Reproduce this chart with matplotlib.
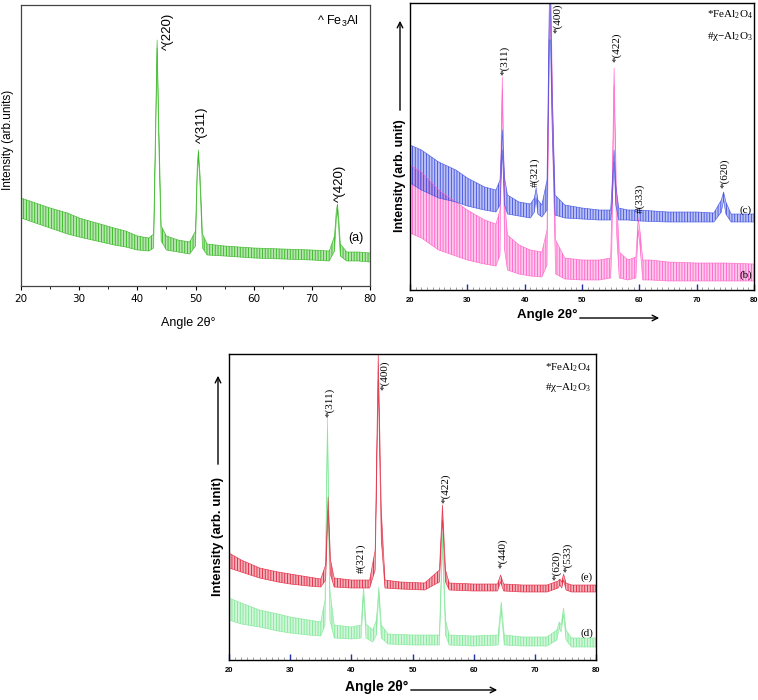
import matplotlib
matplotlib.use("Agg")
import matplotlib.pyplot as plt
from matplotlib.ticker import MultipleLocator

plt.rcParams['mathtext.default'] = 'regular'
plt.rcParams['hatch.linewidth'] = 0.6

W, H = 758, 700

# ---------------- datos (alturas en px sobre el eje) ----------------
# panel (a) Fe3Al
a_x = [20, 22, 25, 28, 30, 33, 36, 38, 40, 42, 42.8, 43.1, 43.4, 43.7, 44.1, 45, 47, 49,
       50.0, 50.3, 50.5, 50.8, 51.2, 52, 55, 60, 65, 70, 73, 73.9, 74.2, 74.4, 74.6, 74.9,
       76, 78, 80]
a_hi = [88, 84, 78, 73, 68, 63, 58, 55, 50, 48, 52, 150, 246, 160, 60, 50, 46, 44,
        55, 120, 136, 110, 52, 42, 40, 38, 37, 36, 35, 50, 75, 82, 70, 42,
        34, 34, 33]
a_lo = [68, 64, 58, 52, 49, 45, 41, 39, 36, 35, 38, 130, 238, 140, 45, 36, 34, 32,
        40, 110, 130, 98, 38, 31, 30, 28, 27, 26, 25, 35, 66, 76, 60, 30,
        25, 25, 24]

# panel (c) azul
c_x = [20, 22, 25, 28, 30, 33, 35, 35.7, 36.1, 36.5, 37, 39, 41, 41.7, 42.0, 42.3, 43,
       43.9, 44.3, 44.5, 44.8, 45.3, 47, 50, 53, 55, 55.3, 55.6, 55.9, 56.4, 58, 60, 65,
       70, 73, 74.3, 74.7, 75.1, 76, 78, 80]
c_hi = [145, 140, 128, 120, 112, 103, 100, 110, 160, 112, 95, 88, 86, 92, 102, 90, 85,
        110, 287, 287, 200, 95, 85, 82, 80, 80, 110, 140, 105, 82, 80, 80, 78,
        78, 77, 90, 98, 88, 76, 76, 76]
c_lo = [107, 100, 92, 88, 84, 80, 78, 85, 140, 85, 76, 74, 72, 78, 92, 76, 73,
        80, 250, 250, 160, 75, 72, 71, 70, 70, 90, 128, 85, 70, 70, 69, 68,
        68, 68, 78, 90, 76, 68, 68, 68]

# panel (b) rosa
b_x = [20, 22, 25, 28, 30, 33, 35, 35.7, 36.1, 36.5, 37, 39, 41, 43, 43.9, 44.3, 44.6,
       44.9, 45.4, 47, 50, 53, 55, 55.2, 55.6, 56.0, 56.5, 58, 59.4, 59.8, 60.1, 60.6,
       62, 65, 70, 75, 80]
b_hi = [125, 118, 100, 88, 80, 70, 66, 80, 213, 90, 55, 45, 40, 38, 60, 270, 287,
        180, 50, 32, 30, 30, 32, 80, 222, 100, 38, 30, 33, 72, 60, 30,
        30, 28, 27, 27, 26]
b_lo = [57, 52, 40, 34, 30, 26, 24, 35, 200, 40, 20, 16, 14, 13, 25, 240, 270,
        140, 16, 11, 10, 10, 12, 40, 205, 60, 12, 10, 12, 60, 45, 10,
        10, 9, 9, 9, 9]

# panel (e) rojo
e_x = [20, 22, 25, 28, 30, 33, 35, 35.8, 36.2, 36.6, 37.2, 40, 43, 43.9, 44.4, 44.9, 45.5,
       48, 52, 54.4, 54.9, 55.4, 56, 60, 63.9, 64.4, 64.9, 68, 72, 73.8, 74.1, 74.4, 74.7,
       75.1, 76, 80]
e_hi = [107, 100, 92, 88, 86, 83, 81, 95, 163, 100, 82, 80, 80, 110, 306, 150, 80,
        78, 77, 90, 155, 90, 77, 76, 76, 85, 76, 75, 75, 79, 81, 78, 86,
        77, 75, 75]
e_lo = [92, 88, 82, 78, 76, 74, 73, 80, 150, 85, 73, 72, 72, 90, 280, 120, 72,
        71, 70, 78, 140, 78, 70, 69, 69, 78, 69, 68, 68, 72, 75, 72, 80,
        70, 68, 68]

# panel (d) verde claro
d_x = [20, 22, 25, 28, 30, 33, 35, 35.7, 36.1, 36.5, 37.2, 40, 41.6, 42.0, 42.4, 43.5,
       44.1, 44.5, 44.9, 46, 50, 54.4, 54.9, 55.4, 56, 60, 64.0, 64.5, 65.0, 68, 72, 73.6,
       74.0, 74.3, 74.7, 75.1, 76, 80]
d_hi = [62, 57, 50, 46, 43, 40, 38, 60, 243, 70, 35, 33, 35, 73, 36, 30,
        40, 73, 35, 26, 25, 25, 127, 40, 25, 24, 25, 58, 25, 23, 23, 30,
        38, 35, 52, 30, 22, 22]
d_lo = [40, 36, 33, 29, 27, 25, 24, 35, 230, 40, 22, 21, 22, 65, 22, 18,
        25, 66, 22, 16, 15, 15, 115, 25, 15, 14, 15, 50, 15, 14, 14, 20,
        32, 28, 46, 20, 13, 13]

# etiquetas de picos: (texto, x, y base)
a_labels = [("^(220)", 45.3, 236), ("^(311)", 51.1, 143), ("^(420)", 74.8, 84)]
bc_labels = [("*(311)", 36.5, 215), ("#(321)", 41.8, 103), ("*(400)", 45.7, 257),
             ("*(422)", 56.1, 228), ("#(333)", 60.2, 77), ("*(620)", 74.8, 102)]
de_labels = [("*(311)", 36.4, 243), ("*(400)", 45.5, 270), ("*(422)", 55.5, 157),
             ("#(321)", 41.6, 87), ("*(440)", 64.8, 92), ("*(620)", 73.6, 80),
             ("*(533)", 75.3, 88)]


def rect(l, t, r, b):
    return [l / W, 1 - b / H, (r - l) / W, (b - t) / H]


def fx(px):
    return px / W


def fy(py):
    return 1 - py / H


def trazo(ax, x, lo, hi, color):
    # banda de ruido: relleno claro con rayado vertical
    ax.fill_between(x, lo, hi, facecolor=color, alpha=0.35, lw=0)
    ax.fill_between(x, lo, hi, facecolor='none', edgecolor=color, hatch='||||||', lw=0)
    ax.plot(x, hi, color=color, lw=0.5, alpha=0.8)
    ax.plot(x, lo, color=color, lw=0.5, alpha=0.8)


fig = plt.figure(figsize=(W / 100, H / 100), dpi=100)

# ---------------- panel (a) ----------------
ax1 = fig.add_axes(rect(21, 5, 370, 286))
trazo(ax1, a_x, a_lo, a_hi, '#2fb51a')
ax1.set_xlim(20, 80)
ax1.set_ylim(0, 281)
ax1.set_yticks([])
ax1.xaxis.set_major_locator(MultipleLocator(10))
ax1.xaxis.set_minor_locator(MultipleLocator(5))
ax1.tick_params(axis='x', direction='out', length=3, width=0.8, labelsize=7.5, pad=3)
ax1.tick_params(axis='x', which='minor', direction='out', length=2)
for s in ax1.spines.values():
    s.set_color('#444444')
    s.set_linewidth(0.9)
for txt, x, y in a_labels:
    ax1.text(x, y, txt, rotation=90, ha='center', va='bottom', fontsize=9.5,
             family='Liberation Sans')
ax1.text(0.848, 0.94, "^ Fe$_3$Al", transform=ax1.transAxes, fontsize=9,
         family='Liberation Sans', va='center')
ax1.text(0.937, 0.17, "(a)", transform=ax1.transAxes, fontsize=9,
         family='Liberation Sans', va='center')
fig.text(fx(188), fy(323), "Angle 2θ°", ha='center', va='center', fontsize=9,
         family='Liberation Sans')
fig.text(fx(8), fy(140), "Intensity (arb.units)", rotation=90, ha='center',
         va='center', fontsize=8.5, family='Liberation Sans')


def panel_xrd(ax, ymax):
    ax.set_xlim(20, 80)
    ax.set_ylim(0, ymax)
    ax.set_yticks([])
    ax.xaxis.set_major_locator(MultipleLocator(10))
    ax.xaxis.set_minor_locator(MultipleLocator(1))
    ax.tick_params(axis='x', direction='in', length=4, width=1, color='#2233aa',
                   labelsize=5.5, pad=5)
    ax.tick_params(axis='x', which='minor', direction='in', length=2.5, width=0.5,
                   color='#777777')
    for lab in ax.get_xticklabels():
        lab.set_fontweight('bold')
        lab.set_family('Liberation Sans')
    for s in ax.spines.values():
        s.set_color('black')
        s.set_linewidth(1.0)


# ---------------- panel (b)/(c) ----------------
ax2 = fig.add_axes(rect(410, 3, 754, 290))
trazo(ax2, b_x, b_lo, b_hi, '#ff5fc8')
trazo(ax2, c_x, c_lo, c_hi, '#3d4fe0')
panel_xrd(ax2, 287)
for txt, x, y in bc_labels:
    ax2.text(x, y, txt, rotation=90, ha='center', va='bottom', fontsize=8,
             family='Liberation Serif')
ax2.text(78.6, 80, "(c)", ha='center', va='center', fontsize=8, family='Liberation Serif')
ax2.text(78.6, 15, "(b)", ha='center', va='center', fontsize=8, family='Liberation Serif')
ax2.text(79.8, 275, "*FeAl$_2$O$_4$", ha='right', va='center', fontsize=8,
         family='Liberation Serif')
ax2.text(79.8, 254, "#χ−Al$_2$O$_3$", ha='right', va='center', fontsize=8,
         family='Liberation Serif')
fig.text(fx(547), fy(315), "Angle 2θ°", ha='center', va='center', fontsize=9.5,
         fontweight='bold', family='Liberation Sans')
fig.text(fx(400), fy(176), "Intensity (arb. unit)", rotation=90, ha='center',
         va='center', fontsize=9, fontweight='bold', family='Liberation Sans')
ax2.annotate("", xy=(fx(400), fy(18)), xytext=(fx(400), fy(113)),
             xycoords='figure fraction', textcoords='figure fraction',
             arrowprops=dict(arrowstyle='->', color='black', lw=1))
ax2.annotate("", xy=(fx(662), fy(318)), xytext=(fx(577), fy(318)),
             xycoords='figure fraction', textcoords='figure fraction',
             arrowprops=dict(arrowstyle='->', color='black', lw=1))

# ---------------- panel (d)/(e) ----------------
ax3 = fig.add_axes(rect(229, 354, 596, 660))
trazo(ax3, d_x, d_lo, d_hi, '#7de895')
trazo(ax3, e_x, e_lo, e_hi, '#e0203a')
panel_xrd(ax3, 306)
for txt, x, y in de_labels:
    ax3.text(x, y, txt, rotation=90, ha='center', va='bottom', fontsize=8,
             family='Liberation Serif')
ax3.text(78.5, 83, "(e)", ha='center', va='center', fontsize=8, family='Liberation Serif')
ax3.text(78.5, 27, "(d)", ha='center', va='center', fontsize=8, family='Liberation Serif')
ax3.text(79.2, 292, "*FeAl$_2$O$_4$", ha='right', va='center', fontsize=8,
         family='Liberation Serif')
ax3.text(79.2, 272, "#χ−Al$_2$O$_3$", ha='right', va='center', fontsize=8,
         family='Liberation Serif')
fig.text(fx(377), fy(687), "Angle 2θ°", ha='center', va='center', fontsize=10,
         fontweight='bold', family='Liberation Sans')
fig.text(fx(218), fy(536), "Intensity (arb. unit)", rotation=90, ha='center',
         va='center', fontsize=9.5, fontweight='bold', family='Liberation Sans')
ax3.annotate("", xy=(fx(218), fy(373)), xytext=(fx(218), fy(467)),
             xycoords='figure fraction', textcoords='figure fraction',
             arrowprops=dict(arrowstyle='->', color='black', lw=1))
ax3.annotate("", xy=(fx(500), fy(690)), xytext=(fx(408), fy(690)),
             xycoords='figure fraction', textcoords='figure fraction',
             arrowprops=dict(arrowstyle='->', color='black', lw=1))

fig.savefig("out.png", dpi=100)
